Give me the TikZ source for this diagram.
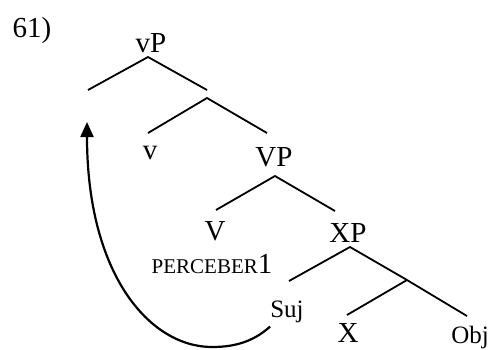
\documentclass[tikz,border=0pt]{standalone}
\usepackage{fontspec}
\setmainfont{Liberation Serif}
\usetikzlibrary{arrows.meta}
\tikzset{
  every node/.style={font=\fontsize{29}{30}\selectfont, inner sep=0pt, anchor=base},
  small/.style={font=\fontsize{25}{26}\selectfont},
  branch/.style={line width=1.8pt},
  arr/.style={-{Triangle[length=15pt,width=13pt]}, line width=2.2pt},
}
\begin{document}
\begin{tikzpicture}[x=1pt, y=-1pt]
  \useasboundingbox (0,0) rectangle (491,349);
  % labels
  \node (num) at (32,37) {61)};
  \node (vP) at (151,52) {vP};
  \node (v) at (150,159) {v};
  \node (VP) at (274,166) {VP};
  \node (V) at (215,240) {V};
  \node (perc) at (212,273) {{\fontsize{21}{22}\selectfont PERCEBER}1};
  \node (XP) at (348,242) {XP};
  \node[small] (Suj) at (287,317) {Suj};
  \node (X) at (348,342) {X};
  \node[small] (Obj) at (470,343) {Obj};
  % branch points
  \coordinate (vPtop) at (148,57);
  \coordinate (spec) at (88,90);
  \coordinate (vbarin) at (207,90);
  \coordinate (vbar) at (207,98);
  \coordinate (vfoot) at (148,133);
  \coordinate (VPhead) at (267,133);
  \coordinate (VPtop) at (275,176);
  \coordinate (Vfoot) at (216,210);
  \coordinate (XPhead) at (335,211);
  \coordinate (XPtop) at (350,247);
  \coordinate (Sujfoot) at (289,281);
  \coordinate (Xbar) at (407,280);
  \coordinate (Xfoot) at (347,315);
  \coordinate (Objfoot) at (467,316);
  \coordinate (trace) at (87,122);
  \coordinate (bend) at (212,347);
  % branches
  \draw[branch] (spec) -- (vPtop) -- (vbarin);
  \draw[branch] (vfoot) -- (vbar) -- (VPhead);
  \draw[branch] (Vfoot) -- (VPtop) -- (XPhead);
  \draw[branch] (Sujfoot) -- (XPtop) -- (Xbar) -- (Objfoot);
  \draw[branch] (Xbar) -- (Xfoot);
  % movement
  \draw[arr] ([yshift=-4pt]Suj.south west) .. controls (252,343) and (232,347) .. (bend)
    .. controls (150,347) and (87,275) .. (trace);
\end{tikzpicture}
\end{document}
